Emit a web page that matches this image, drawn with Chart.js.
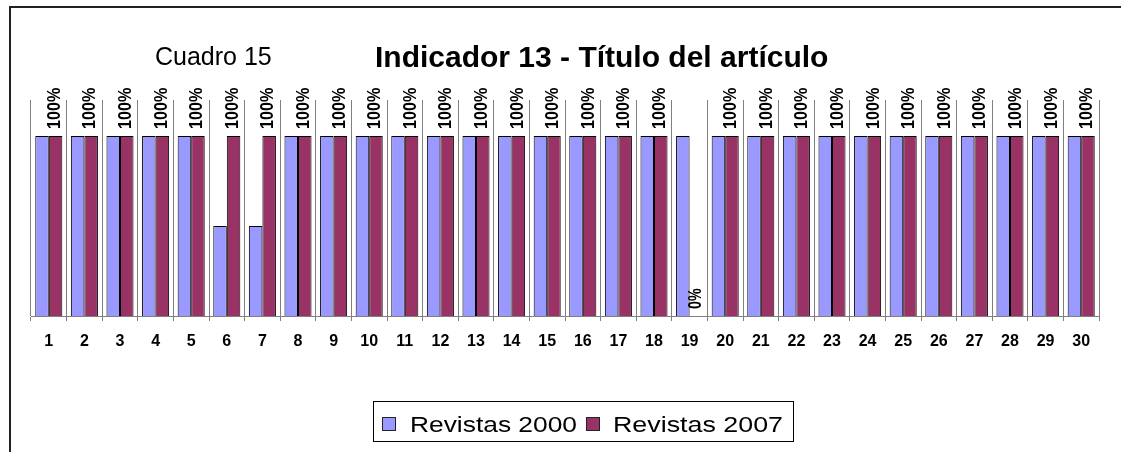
<!DOCTYPE html>
<html>
<head>
<meta charset="utf-8">
<script src="https://cdn.jsdelivr.net/npm/chart.js@4.4.1/dist/chart.umd.min.js"></script>
<style>
  body { margin: 0; background: #fff; }
  #wrap { position: relative; width: 1121px; height: 452px; overflow: hidden; }
</style>
</head>
<body>
<div id="wrap"><canvas id="chart"></canvas></div>
<script>
const categories = ["1", "2", "3", "4", "5", "6", "7", "8", "9", "10",
  "11", "12", "13", "14", "15", "16", "17", "18", "19", "20",
  "21", "22", "23", "24", "25", "26", "27", "28", "29", "30"];
const revistas2000 = [100, 100, 100, 100, 100, 50, 50, 100, 100, 100,
  100, 100, 100, 100, 100, 100, 100, 100, 100, 100,
  100, 100, 100, 100, 100, 100, 100, 100, 100, 100];
const revistas2007 = [100, 100, 100, 100, 100, 100, 100, 100, 100, 100,
  100, 100, 100, 100, 100, 100, 100, 100, 0, 100,
  100, 100, 100, 100, 100, 100, 100, 100, 100, 100];
const seriesNames = ["Revistas 2000", "Revistas 2007"];
const seriesColors = ["#9999FF", "#993366"];
const subtitle = "Cuadro 15";
const title = "Indicador 13 - Título del artículo";

const FONT = "Arial, 'Liberation Sans', sans-serif";

// marco, titulos y leyenda
const extras = {
  id: "extras",
  afterDraw(chart) {
    const ctx = chart.ctx;
    ctx.save();
    // marco exterior (se sale por la derecha y abajo)
    ctx.fillStyle = "#222";
    ctx.fillRect(9, 6, 1200, 2);
    ctx.fillRect(9, 6, 2, 500);

    ctx.fillStyle = "#000";
    ctx.textBaseline = "alphabetic";
    ctx.textAlign = "left";
    ctx.font = "25px " + FONT;
    ctx.fillText(subtitle, 155, 65);
    ctx.font = "bold 30px " + FONT;
    ctx.fillText(title, 375, 67);

    // leyenda con recuadro
    ctx.strokeStyle = "#000";
    ctx.lineWidth = 1;
    ctx.strokeRect(373.5, 401.5, 420, 40);
    const items = [
      { box: 382, text: 410, w: 167 },
      { box: 586, text: 613, w: 170 },
    ];
    ctx.font = "22px " + FONT;
    items.forEach((it, i) => {
      ctx.fillStyle = seriesColors[i];
      ctx.fillRect(it.box, 417, 14, 14);
      ctx.strokeStyle = "#222";
      ctx.strokeRect(it.box + 0.5, 417.5, 13, 13);
      ctx.fillStyle = "#000";
      const m = ctx.measureText(seriesNames[i]).width;
      ctx.save();
      ctx.translate(it.text, 432);
      ctx.scale(it.w / m, 1);
      ctx.fillText(seriesNames[i], 0, 0);
      ctx.restore();
    });
    ctx.restore();
  },
};

// etiquetas de valor verticales (solo serie 2007)
const valueLabels = {
  id: "valueLabels",
  afterDatasetsDraw(chart) {
    const ctx = chart.ctx;
    const meta = chart.getDatasetMeta(1);
    ctx.save();
    ctx.fillStyle = "#000";
    ctx.font = "bold 19px " + FONT;
    ctx.textAlign = "left";
    ctx.textBaseline = "middle";
    meta.data.forEach((bar, i) => {
      const txt = revistas2007[i] + "%";
      const m = ctx.measureText(txt).width;
      ctx.save();
      ctx.translate(bar.x - 1, bar.y - 7);
      ctx.rotate(-Math.PI / 2);
      // texto comprimido a lo largo, como en el original
      ctx.scale((txt.length * 10.3) / m, 1);
      ctx.fillText(txt, 0, 0);
      ctx.restore();
    });
    ctx.restore();
  },
};

new Chart(document.getElementById("chart"), {
  type: "bar",
  data: {
    labels: categories,
    datasets: [
      {
        label: seriesNames[0],
        data: revistas2000,
        backgroundColor: seriesColors[0],
        borderColor: "#000",
        borderWidth: 1,
        categoryPercentage: 0.76,
        barPercentage: 1,
      },
      {
        label: seriesNames[1],
        data: revistas2007,
        backgroundColor: seriesColors[1],
        borderColor: "#000",
        borderWidth: 1,
        categoryPercentage: 0.76,
        barPercentage: 1,
      },
    ],
  },
  options: {
    responsive: true,
    maintainAspectRatio: false,
    animation: false,
    layout: { padding: { left: 31, right: 22, top: 100, bottom: 0 } },
    plugins: {
      legend: { display: false },
      tooltip: { enabled: false },
    },
    scales: {
      x: {
        grid: {
          offset: true,
          color: "#808080",
          tickColor: "#808080",
          tickLength: 5,
        },
        border: { color: "#808080" },
        ticks: {
          color: "#000",
          font: { family: FONT, size: 16, weight: "bold" },
          padding: 11,
          maxRotation: 0,
          autoSkip: false,
        },
        afterFit: (scale) => {
          scale.height = 136;
        },
      },
      y: {
        display: false,
        min: 0,
        max: 120,
      },
    },
  },
  plugins: [extras, valueLabels],
});
</script>
</body>
</html>
